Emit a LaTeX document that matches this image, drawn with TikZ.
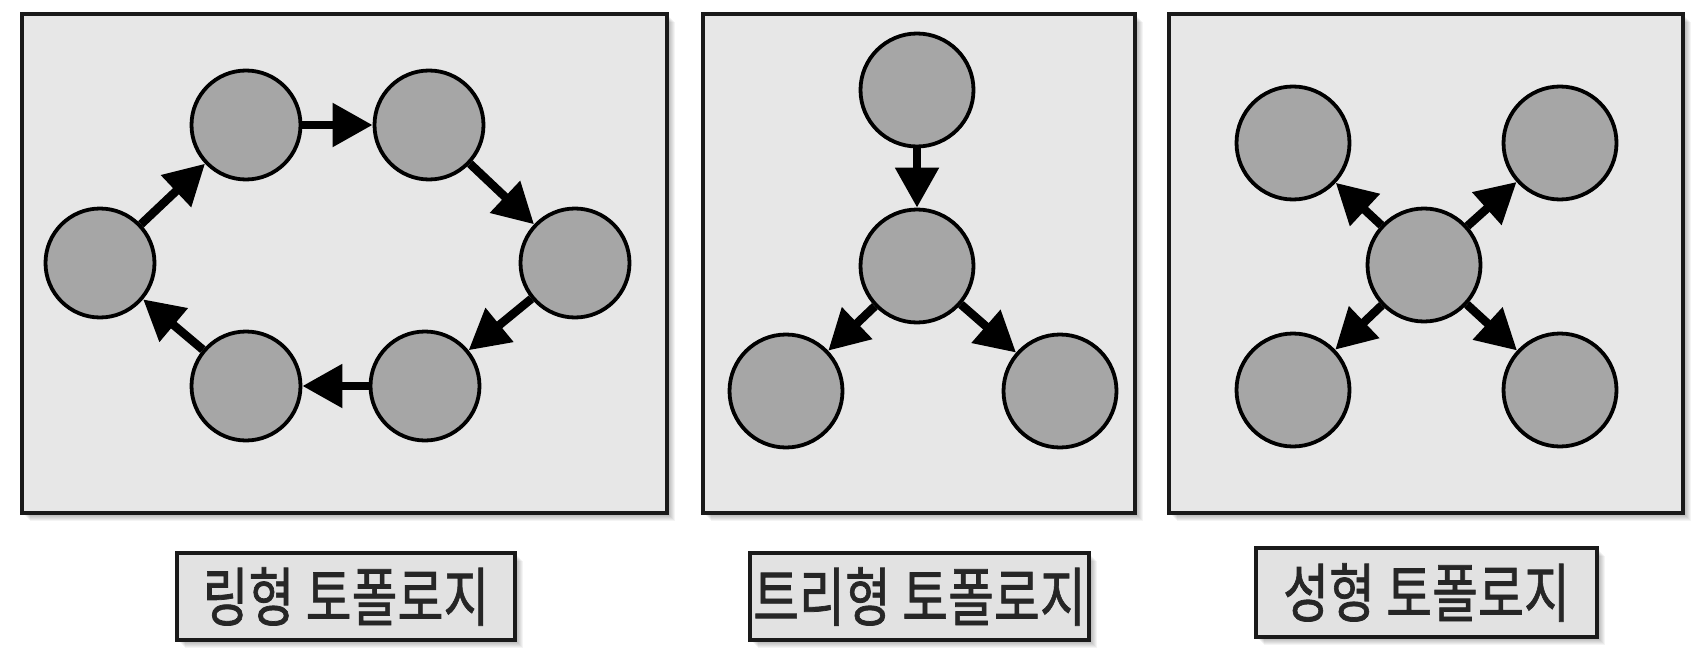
\documentclass[tikz,border=0pt]{standalone}
\usepackage{fontspec}
\usepackage{graphicx}
\newfontface\krfont[FakeBold=1.2]{Noto Sans CJK KR}
\usetikzlibrary{arrows.meta}
\definecolor{panelfill}{HTML}{E7E7E7}
\definecolor{nodefill}{HTML}{A6A6A6}
\definecolor{labelfill}{HTML}{E2E2E2}
\definecolor{edgecol}{HTML}{1A1A1A}
\definecolor{textgray}{HTML}{262626}
\tikzset{
  panel/.style={draw=edgecol, line width=3.5pt, fill=panelfill},
  tnode/.style={circle, draw=black, line width=3.8pt, fill=nodefill, inner sep=0pt, minimum size=113pt},
  ringnode/.style={tnode, minimum size=109pt},
  link/.style={line width=8.5pt, -{Triangle[length=40pt,width=42pt]}},
  lbl/.style={draw=edgecol, line width=4pt, fill=labelfill, inner sep=0pt, text=textgray,
    font=\krfont\fontsize{64}{64}\selectfont},
  softshadow/.style={fill=black, opacity=0.045},
}
\newcommand{\shadowrect}[4]{%
  \foreach \s in {1,2,...,8}{\fill[softshadow] (#1+\s,#2+\s) rectangle (#3+\s,#4+\s);}}
\begin{document}
\begin{tikzpicture}[x=1pt,y=-1pt]
\useasboundingbox[fill=white] (0,0) rectangle (1704,650);

% panels
\shadowrect{22}{14}{667}{513}
\shadowrect{703}{14}{1135}{513}
\shadowrect{1169}{14}{1683}{513}
\draw[panel] (22,14) rectangle (667,513);
\draw[panel] (703,14) rectangle (1135,513);
\draw[panel] (1169,14) rectangle (1683,513);

% ring topology
\node[ringnode] (rL)  at (100,263) {};
\node[ringnode] (rTL) at (246,125) {};
\node[ringnode] (rTR) at (429,125) {};
\node[ringnode] (rR)  at (575,263) {};
\node[ringnode] (rBR) at (425,386) {};
\node[ringnode] (rBL) at (246,386) {};
\draw[link] (rL) -- (rTL);
\draw[link] (rTL) -- (rTR);
\draw[link] (rTR) -- (rR);
\draw[link] (rR) -- (rBR);
\draw[link] (rBR) -- (rBL);
\draw[link] (rBL) -- (rL);

% tree topology
\node[tnode] (tT)  at (917,90) {};
\node[tnode] (tM)  at (917,266) {};
\node[tnode] (tBL) at (786,391) {};
\node[tnode] (tBR) at (1060,391) {};
\draw[link] (tT) -- (tM);
\draw[link] (tM) -- (tBL);
\draw[link] (tM) -- (tBR);

% star topology
\node[tnode] (sC)  at (1424,265) {};
\node[tnode] (sTL) at (1293,143) {};
\node[tnode] (sTR) at (1560,143) {};
\node[tnode] (sBL) at (1293,390) {};
\node[tnode] (sBR) at (1560,390) {};
\draw[link] (sC) -- (sTL);
\draw[link] (sC) -- (sTR);
\draw[link] (sC) -- (sBL);
\draw[link] (sC) -- (sBR);

% labels
\shadowrect{177}{553}{515}{640}
\shadowrect{750}{553}{1089}{640}
\shadowrect{1256}{548}{1597}{637}
\node[lbl, minimum width=338pt, minimum height=87pt] (lab1) at (346,596.5) {\scalebox{0.78}[1]{링형 토폴로지}};
\node[lbl, minimum width=339pt, minimum height=87pt] (lab2) at (919.5,596.5) {\scalebox{0.78}[1]{트리형 토폴로지}};
\node[lbl, minimum width=341pt, minimum height=89pt] (lab3) at (1426.5,592.5) {\scalebox{0.78}[1]{성형 토폴로지}};
\end{tikzpicture}
\end{document}
